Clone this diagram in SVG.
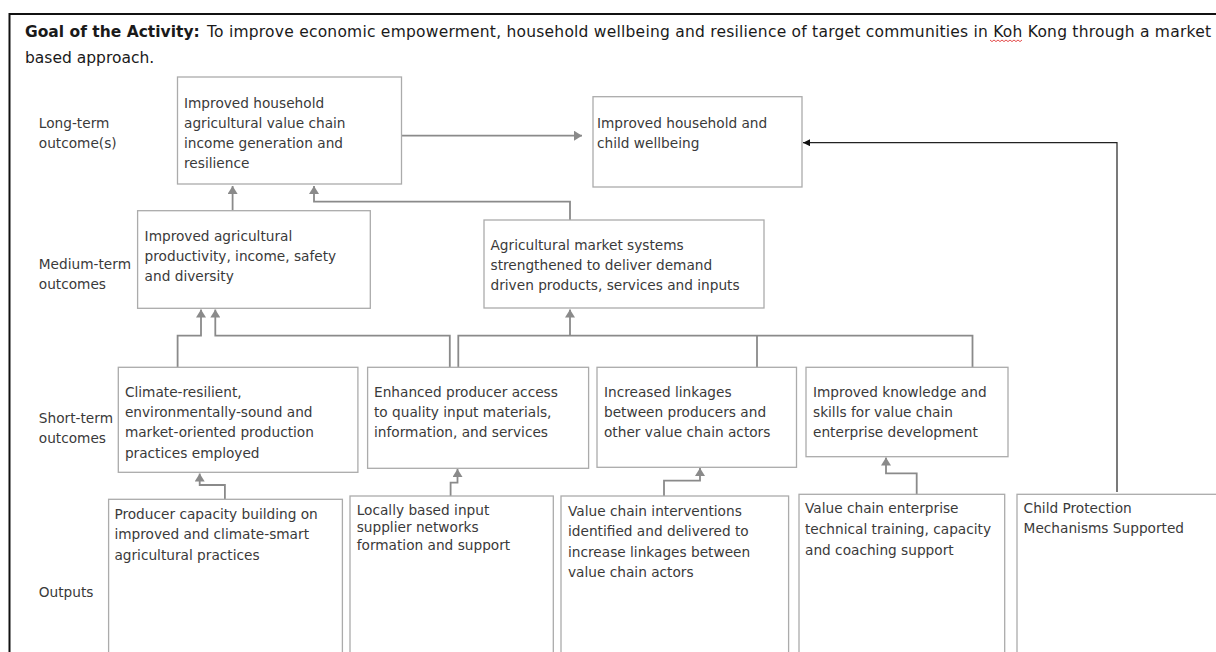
<svg xmlns="http://www.w3.org/2000/svg" width="1216" height="652" viewBox="0 0 1216 652">
<style>
.box{fill:#fff;stroke:#ababab;stroke-width:1.3}
.t{font-family:"DejaVu Sans",Verdana,sans-serif;font-size:13.7px;fill:#3a3a3a}
.lbl{font-family:"DejaVu Sans",Verdana,sans-serif;font-size:13.7px;fill:#3a3a3a}
.c{fill:none;stroke:#8a8a8a;stroke-width:1.8}
.title{font-family:"DejaVu Sans",Tahoma,sans-serif;font-size:15.5px;fill:#1a1a1a}
</style>
<defs>
<marker id="ag" viewBox="0 0 8 10" refX="8" refY="5" markerWidth="8" markerHeight="10" markerUnits="userSpaceOnUse" orient="auto">
<path d="M0,0 L8,5 L0,10 z" fill="#8a8a8a"/>
</marker>
<marker id="ab" viewBox="0 0 7 7" refX="7" refY="3.5" markerWidth="7" markerHeight="7" markerUnits="userSpaceOnUse" orient="auto">
<path d="M0,0 L7,3.5 L0,7 z" fill="#111"/>
</marker>
</defs>
<rect width="1216" height="652" fill="#fff"/>
<path d="M9.5,14 H1216 M9.5,13 V652" fill="none" stroke="#111" stroke-width="2"/>
<g id="title">
<text class="title" x="25" y="37" font-weight="bold">Goal of the Activity:</text>
<text class="title" x="207" y="37" textLength="1004" lengthAdjust="spacing">To improve economic empowerment, household wellbeing and resilience of target communities in Koh Kong through a market</text>
<text class="title" x="25" y="63">based approach.</text>
<path d="M990,40 l2,1.6 l2,-1.6 l2,1.6 l2,-1.6 l2,1.6 l2,-1.6 l2,1.6 l2,-1.6 l2,1.6 l2,-1.6 l2,1.6 l2,-1.6 l2,1.6 l2,-1.6 l2,1.6 l2,-1.6" fill="none" stroke="#e03a3a" stroke-width="0.9"/>
</g>
<g id="row-labels">
<text class="lbl" x="38.8" y="128">Long-term</text>
<text class="lbl" x="38.8" y="148">outcome(s)</text>
<text class="lbl" x="38.8" y="269">Medium-term</text>
<text class="lbl" x="38.8" y="289">outcomes</text>
<text class="lbl" x="38.8" y="422.5">Short-term</text>
<text class="lbl" x="38.8" y="442.5">outcomes</text>
<text class="lbl" x="38.8" y="596.7">Outputs</text>
</g>
<g id="connectors">
<path class="c" d="M401,135.7 H582" marker-end="url(#ag)"/>
<path class="c" d="M232.6,210.7 V186" stroke-width="1.2" marker-end="url(#ag)"/>
<path class="c" d="M570,220 V201.7 H314 V186" marker-end="url(#ag)"/>
<path class="c" d="M177.6,367.3 V335.7 H201 V309.5" marker-end="url(#ag)"/>
<path class="c" d="M449.8,367.3 V335.7 H215.3 V309.5" marker-end="url(#ag)"/>
<path class="c" d="M458.3,367.3 V335.7 H972.5 V367.3 M757,335.7 V367.3"/>
<path class="c" d="M570,335.7 V309.5" marker-end="url(#ag)"/>
<path class="c" d="M224.9,499.3 V485 H199.7 V473.5" marker-end="url(#ag)"/>
<path class="c" d="M450.6,496 V482.7 H457.5 V469" marker-end="url(#ag)"/>
<path class="c" d="M664,496 V480.7 H700 V468" marker-end="url(#ag)"/>
<path class="c" d="M916.7,494.3 V473.3 H886 V457.5" marker-end="url(#ag)"/>
<path d="M1117,492 V142.7 H803" fill="none" stroke="#222" stroke-width="1.2" marker-end="url(#ab)"/>
</g>
<g id="lt1">
<rect class="box" x="177.5" y="77" width="224" height="107"/>
<text class="t" x="184" y="108">Improved household</text>
<text class="t" x="184" y="128">agricultural value chain</text>
<text class="t" x="184" y="148">income generation and</text>
<text class="t" x="184" y="168">resilience</text>
</g>
<g id="lt2">
<rect class="box" x="593" y="96.7" width="209" height="90.3"/>
<text class="t" x="597" y="128">Improved household and</text>
<text class="t" x="597" y="148">child wellbeing</text>
</g>
<g id="mt1">
<rect class="box" x="137.6" y="210.7" width="232.7" height="97.6"/>
<text class="t" x="144.6" y="241">Improved agricultural</text>
<text class="t" x="144.6" y="261">productivity, income, safety</text>
<text class="t" x="144.6" y="281">and diversity</text>
</g>
<g id="mt2">
<rect class="box" x="484" y="220" width="280" height="88"/>
<text class="t" x="490.5" y="250">Agricultural market systems</text>
<text class="t" x="490.5" y="270">strengthened to deliver demand</text>
<text class="t" x="490.5" y="290">driven products, services and inputs</text>
</g>
<g id="st1">
<rect class="box" x="118.3" y="367.3" width="239.6" height="105"/>
<text class="t" x="124.9" y="396.7">Climate-resilient,</text>
<text class="t" x="124.9" y="417.3">environmentally-sound and</text>
<text class="t" x="124.9" y="437.3">market-oriented production</text>
<text class="t" x="124.9" y="458">practices employed</text>
</g>
<g id="st2">
<rect class="box" x="367.6" y="367.3" width="221" height="101"/>
<text class="t" x="374" y="396.7">Enhanced producer access</text>
<text class="t" x="374" y="417.3">to quality input materials,</text>
<text class="t" x="374" y="437.3">information, and services</text>
</g>
<g id="st3">
<rect class="box" x="597" y="367.3" width="199.5" height="100"/>
<text class="t" x="604" y="396.7">Increased linkages</text>
<text class="t" x="604" y="417.3">between producers and</text>
<text class="t" x="604" y="437.3">other value chain actors</text>
</g>
<g id="st4">
<rect class="box" x="806" y="367.3" width="202" height="89.4"/>
<text class="t" x="813" y="396.7">Improved knowledge and</text>
<text class="t" x="813" y="417.3">skills for value chain</text>
<text class="t" x="813" y="437.3">enterprise development</text>
</g>
<g id="op1">
<rect class="box" x="108.6" y="499.3" width="233.8" height="170"/>
<text class="t" x="114.4" y="518.7">Producer capacity building on</text>
<text class="t" x="114.4" y="539.3">improved and climate-smart</text>
<text class="t" x="114.4" y="560">agricultural practices</text>
</g>
<g id="op2">
<rect class="box" x="350" y="496" width="203.3" height="170"/>
<text class="t" x="356.7" y="514.7">Locally based input</text>
<text class="t" x="356.7" y="532.3">supplier networks</text>
<text class="t" x="356.7" y="550">formation and support</text>
</g>
<g id="op3">
<rect class="box" x="561" y="496" width="227.6" height="170"/>
<text class="t" x="568" y="515.7">Value chain interventions</text>
<text class="t" x="568" y="536.3">identified and delivered to</text>
<text class="t" x="568" y="557.3">increase linkages between</text>
<text class="t" x="568" y="577.3">value chain actors</text>
</g>
<g id="op4">
<rect class="box" x="799" y="494.3" width="205.7" height="170"/>
<text class="t" x="805" y="513.3">Value chain enterprise</text>
<text class="t" x="805" y="534">technical training, capacity</text>
<text class="t" x="805" y="555">and coaching support</text>
</g>
<g id="op5">
<rect class="box" x="1017" y="494.3" width="210" height="170"/>
<text class="t" x="1023.6" y="513.3">Child Protection</text>
<text class="t" x="1023.6" y="533.3">Mechanisms Supported</text>
</g>
</svg>
